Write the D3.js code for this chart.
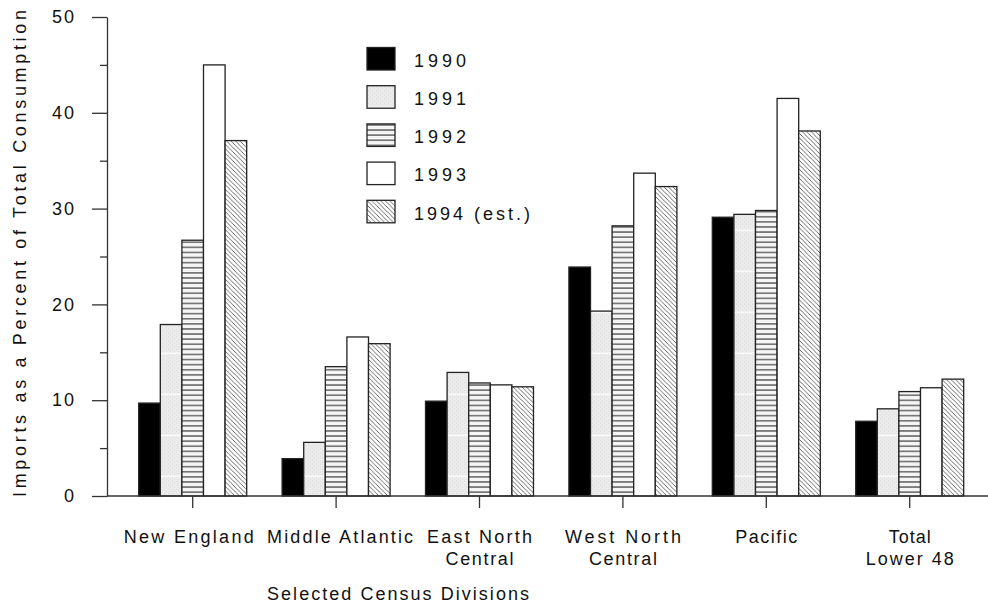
<!DOCTYPE html>
<html><head><meta charset="utf-8">
<script src="https://cdn.jsdelivr.net/npm/d3@7"></script>
<style>
body{margin:0;background:#fff}
svg{display:block}
text{font-family:"Liberation Sans",Arial,sans-serif;fill:#111}
</style>
</head><body><svg id="c" width="988" height="607"></svg>
<script>
// ---- data ----
const categories = ["New England","Middle Atlantic","East North Central","West North Central","Pacific","Total Lower 48"];
const categoryLines = [["New England"],["Middle Atlantic"],["East North","Central"],["West North","Central"],["Pacific"],["Total","Lower 48"]];
const years = ["1990","1991","1992","1993","1994 (est.)"];
const v1990 = [9.7, 3.9, 9.9, 23.9, 29.1, 7.8];
const v1991 = [17.9, 5.6, 12.9, 19.3, 29.4, 9.1];
const v1992 = [26.7, 13.5, 11.8, 28.2, 29.8, 10.9];
const v1993 = [45.0, 16.6, 11.6, 33.7, 41.5, 11.3];
const v1994 = [37.1, 15.9, 11.4, 32.3, 38.1, 12.2];
const seriesValues = [v1990, v1991, v1992, v1993, v1994];
const yMajorTicks = [0, 10, 20, 30, 40, 50];
const yMinorTicks = [5, 15, 25, 35, 45];
const yTitle = "Imports as a Percent of Total Consumption";
const xTitle = "Selected Census Divisions";

const svg = d3.select("#c");
const defs = svg.append("defs");

// patterns
const p1 = defs.append("pattern").attr("id","p1991").attr("patternUnits","userSpaceOnUse")
  .attr("width",4).attr("height",41).attr("x",0).attr("y",24.7);
p1.append("rect").attr("width",4).attr("height",41).attr("fill","#ebebeb");
for (let yy=1; yy<41; yy+=2) {
  p1.append("rect").attr("x",(yy%4===1)?0:2).attr("y",yy).attr("width",1).attr("height",1).attr("fill","#dcdcdc");
}
p1.append("rect").attr("x",0).attr("y",0).attr("width",4).attr("height",1.2).attr("fill","#ffffff");

const p2 = defs.append("pattern").attr("id","p1992").attr("patternUnits","userSpaceOnUse")
  .attr("width",8).attr("height",5.1).attr("x",0).attr("y",0);
p2.append("rect").attr("width",8).attr("height",5.1).attr("fill","#f5f5f5");
p2.append("rect").attr("y",2).attr("width",8).attr("height",1.1).attr("fill","#333");

const p4 = defs.append("pattern").attr("id","p1994").attr("patternUnits","userSpaceOnUse")
  .attr("width",4.5).attr("height",4.5);
p4.append("rect").attr("width",4.5).attr("height",4.5).attr("fill","#fff");
p4.append("path").attr("d","M0,0L4.5,4.5M-1,3.5L1,5.5M3.5,-1L5.5,1")
  .attr("stroke","#444").attr("stroke-width",0.8);

const fills = ["#000","url(#p1991)","url(#p1992)","#fff","url(#p1994)"];

// scales
const x0 = d3.scaleBand().domain(categories).range([121, 981.4]).paddingInner(0.247).paddingOuter(0.1235);
const x1 = d3.scaleBand().domain(years).range([0, x0.bandwidth()]);
const y = d3.scaleLinear().domain([0, 50]).range([496, 17]);

// bars
seriesValues.forEach((vals, si) => {
  svg.append("g").selectAll("rect").data(vals).join("rect")
    .attr("x", (d,i) => x0(categories[i]) + x1(years[si]))
    .attr("y", d => y(d))
    .attr("width", x1.bandwidth())
    .attr("height", d => y(0) - y(d))
    .attr("fill", fills[si])
    .attr("stroke", "#222").attr("stroke-width", 1.3);
});

// y axis
const gy = svg.append("g").attr("transform","translate(107,0)");
gy.call(d3.axisLeft(y).tickValues(yMajorTicks).tickSize(15).tickSizeOuter(0).tickPadding(16).tickFormat(d3.format("d")));
gy.append("g").call(d3.axisLeft(y).tickValues(yMinorTicks).tickSize(7).tickFormat(""))
  .select(".domain").remove();
gy.selectAll("path,line").attr("stroke","#333").attr("stroke-width",1.3);
gy.selectAll("text").attr("font-size",18).attr("fill","#111").style("letter-spacing","2px")
  .attr("font-family",'"Liberation Sans",Arial,sans-serif');

// x axis
const gx = svg.append("g").attr("transform","translate(0,496)");
gx.call(d3.axisBottom(x0).tickSize(12).tickFormat(""));
gx.select(".domain").remove();
gx.append("line").attr("x1",107).attr("x2",988).attr("y1",0).attr("y2",0);
gx.selectAll("path,line").attr("stroke","#333").attr("stroke-width",1.3);

// category labels
const labelTargets = {
  "New England":130, "Middle Atlantic":146, "East North":105, "Central":68,
  "West North":116, "Pacific":62, "Total":42, "Lower 48":88
};
const labelShift = [-4, 4, 0, 0, 0, 0];
categoryLines.forEach((lines, i) => {
  const cx = x0(categories[i]) + x0.bandwidth()/2 + labelShift[i];
  lines.forEach((ln, li) => {
    svg.append("text").attr("x", cx).attr("y", 543 + li*22)
      .attr("text-anchor","middle").attr("font-size",18)
      .attr("textLength", labelTargets[ln]).attr("lengthAdjust","spacing")
      .text(ln);
  });
});

// axis titles
svg.append("text").attr("x", 398).attr("y", 600).attr("text-anchor","middle")
  .attr("font-size",18).attr("textLength",262).attr("lengthAdjust","spacing").text(xTitle);
svg.append("text").attr("transform","translate(26,253.5) rotate(-90)").attr("text-anchor","middle")
  .attr("font-size",18).attr("textLength",487).attr("lengthAdjust","spacing").text(yTitle);

// legend
const lg = svg.append("g");
years.forEach((yr, i) => {
  const top = 47.5 + i*38.2;
  lg.append("rect").attr("x",367).attr("y",top).attr("width",28).attr("height",22.5)
    .attr("fill",fills[i]).attr("stroke","#222").attr("stroke-width",1.3);
  lg.append("text").attr("x",414).attr("y",top+19.3).attr("font-size",18)
    .attr("textLength", yr.length > 4 ? 116 : 52).attr("lengthAdjust","spacing").text(yr);
});
</script>
</body></html>
